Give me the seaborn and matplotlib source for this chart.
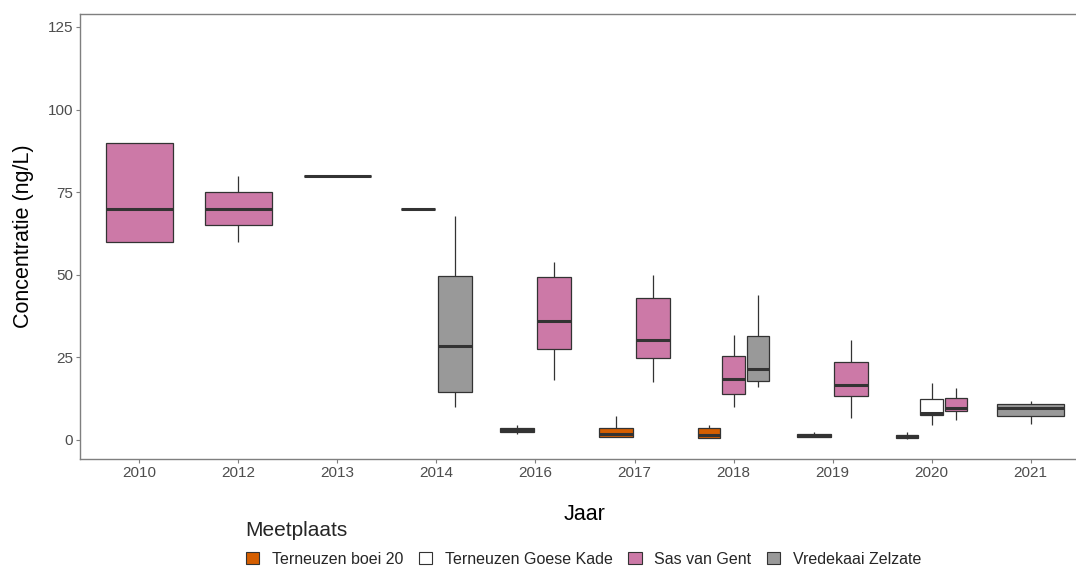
import numpy as np
import pandas as pd
import matplotlib
matplotlib.use("Agg")
import matplotlib.pyplot as plt
from matplotlib.patches import Patch
import seaborn as sns

# ---- data (five-number summaries: min, q1, median, q3, max)
years = ["2010", "2012", "2013", "2014", "2016", "2017", "2018", "2019", "2020", "2021"]
sites = ["Terneuzen boei 20", "Terneuzen Goese Kade", "Sas van Gent", "Vredekaai Zelzate"]
site_colors = ["#D55E00", "#FFFFFF", "#CC79A7", "#999999"]

boei_years = ["2016", "2017", "2018", "2019", "2020"]
boei_values = [
    [1.8, 2.5, 3.1, 3.6, 4.6],
    [0.8, 0.9, 1.7, 3.5, 7.2],
    [0.5, 0.6, 1.4, 3.5, 4.4],
    [0.8, 1.0, 1.3, 1.7, 2.3],
    [0.3, 0.6, 1.1, 1.6, 2.5],
]
goese_years = ["2020"]
goese_values = [
    [4.6, 7.6, 8.1, 12.3, 17.1],
]
sas_years = ["2010", "2012", "2013", "2014", "2016", "2017", "2018", "2019", "2020"]
sas_values = [
    [60, 60, 70, 90, 90],
    [60, 65, 70, 75, 80],
    [80, 80, 80, 80, 80],
    [70, 70, 70, 70, 70],
    [18.2, 27.5, 36.1, 49.4, 53.8],
    [17.7, 24.8, 30.3, 43.1, 49.9],
    [9.9, 14.0, 18.5, 25.4, 31.9],
    [6.8, 13.4, 16.6, 23.5, 30.3],
    [6.1, 8.9, 9.8, 12.8, 15.6],
]
vredekaai_years = ["2014", "2018", "2021"]
vredekaai_values = [
    [10.1, 14.6, 28.4, 49.6, 67.7],
    [16.0, 17.9, 21.5, 31.6, 43.9],
    [4.8, 7.3, 9.8, 10.9, 11.8],
]

site_years = [boei_years, goese_years, sas_years, vredekaai_years]
site_values = [boei_values, goese_values, sas_values, vredekaai_values]

# long table
rows = []
for s, yrs, vals in zip(sites, site_years, site_values):
    for y, v in zip(yrs, vals):
        for val in v:
            rows.append({"Jaar": y, "Meetplaats": s, "value": val})
df = pd.DataFrame(rows)

# ---- figure
sns.set_theme(style="white")
plt.rcParams["font.family"] = ["Liberation Sans", "DejaVu Sans"]

fig = plt.figure(figsize=(10.76, 5.67), dpi=100)
ax = fig.add_axes([80 / 1076, 1 - 459 / 567, (1090 - 80) / 1076, (459 - 14) / 567])

total_width = 0.75
padding = 0.1
line_col = "#333333"

for yi, y in enumerate(years):
    present = [s for s in sites if ((df["Jaar"] == y) & (df["Meetplaats"] == s)).any()]
    n = len(present)
    slot = total_width / n
    for k, s in enumerate(present):
        pos = yi - total_width / 2 + slot * (k + 0.5)
        sub = df[(df["Jaar"] == y) & (df["Meetplaats"] == s)]
        sns.boxplot(
            x=np.full(len(sub), pos, dtype=float),
            y=sub["value"].to_numpy(),
            native_scale=True,
            orient="x",
            width=slot * (1 - padding),
            color=site_colors[sites.index(s)],
            saturation=1,
            linecolor=line_col,
            linewidth=0.9,
            showfliers=False,
            showcaps=False,
            medianprops=dict(linewidth=2.2, color=line_col),
            ax=ax,
        )

ax.set_xlim(-0.6, len(years) - 1 + 0.6)
ax.set_ylim(-5.75, 128.9)
ax.set_xticks(range(len(years)))
ax.set_xticklabels(years)
ax.set_yticks([0, 25, 50, 75, 100, 125])
ax.set_yticklabels(["0", "25", "50", "75", "100", "125"])
ax.tick_params(axis="both", which="both", length=3, width=0.8, color="#7f7f7f",
               labelsize=11, labelcolor="#4d4d4d", pad=2, left=True, bottom=True)
for sp in ax.spines.values():
    sp.set_visible(True)
    sp.set_color("#7f7f7f")
    sp.set_linewidth(1.0)
ax.grid(False)
ax.set_xlabel("Jaar", fontsize=15.5, color="black", labelpad=17)
ax.set_ylabel("Concentratie (ng/L)", fontsize=15.5, color="black", labelpad=10)

handles = [Patch(facecolor=c, edgecolor=line_col, linewidth=0.8, label=s)
           for s, c in zip(sites, site_colors)]
leg = fig.legend(handles=handles, loc="lower center", bbox_to_anchor=(583.5 / 1076, -0.0245),
                 ncol=4, frameon=False, title="Meetplaats", fontsize=11.5,
                 title_fontsize=15, handlelength=0.85, handleheight=0.7,
                 handletextpad=0.8, columnspacing=0.95, labelspacing=0.75,
                 alignment="left")

fig.savefig("out.png", dpi=100)
